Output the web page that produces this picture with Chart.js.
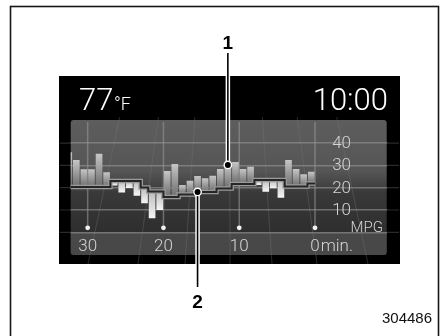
<!DOCTYPE html>
<html>
<head>
<meta charset="utf-8">
<script src="https://cdn.jsdelivr.net/npm/chart.js@4.4.1/dist/chart.umd.min.js"></script>
<style>
  html, body { margin: 0; padding: 0; background: #fff; }
</style>
</head>
<body>
<canvas id="c" width="444" height="336"></canvas>
<script>
// minutos atras (centro de cada barra); la de 32.5 queda cortada por el panel
const minutes = [32.5, 31.5, 30.5, 29.5, 28.5, 27.5, 26.5, 25.5, 24.5, 23.5, 22.5,
  21.5, 20.5, 19.5, 18.5, 17.5, 16.5, 15.5, 14.5, 13.5, 12.5, 11.5,
  10.5, 9.5, 8.5, 7.5, 6.5, 5.5, 4.5, 3.5, 2.5, 1.5, 0.5];
// consumo instantaneo (extremo de cada barra)
const mpg = [35.9, 32.4, 28.3, 28.3, 35.2, 26.9, 21.0, 17.9, 19.9, 16.4, 13.0,
  6.3, 10.0, 27.5, 30.6, 21.2, 23.1, 25.2, 24.2, 25.4, 28.4, 30.2,
  31.5, 28.4, 29.4, 21.2, 18.2, 19.7, 15.5, 32.4, 28.4, 26.0, 27.2];
// promedio (linea escalonada, base de cada barra)
const avgMpg = [20.3, 20.3, 20.3, 20.3, 20.3, 20.3, 23.0, 23.0, 23.0, 23.0, 20.1,
  18.3, 18.3, 15.8, 15.8, 16.9, 16.9, 18.1, 18.1, 18.1, 19.6, 19.6,
  21.7, 21.7, 21.7, 23.5, 23.5, 23.5, 23.5, 20.5, 20.5, 20.5, 21.9];

const xTickValues = [30, 20, 10, 0];
const xTickLabels = ['30', '20', '10', '0'];
const xUnit = 'min.';
const yTickValues = [10, 20, 30, 40];
const yTickLabels = ['10', '20', '30', '40'];
const yUnit = 'MPG';
const tempText = '77';
const tempUnit = '°F';
const clockText = '10:00';
const figureId = '304486';
// llamadas: 1 = barra actual, 2 = promedio
const callouts = [
  { label: '1', bar: 21, on: 'bar', toY: 53, labelY: 49 },
  { label: '2', bar: 17, on: 'avg', toY: 287, labelY: 308 }
];

const thinFont = 'Roboto, Lato, "Open Sans", sans-serif';

const barData = minutes.map(function (m, i) { return { x: m, y: [avgMpg[i], mpg[i]] }; });
const avgLine = [];
minutes.forEach(function (m, i) {
  avgLine.push({ x: m + 0.5, y: avgMpg[i] }, { x: m - 0.5, y: avgMpg[i] });
});

const dashPlugin = {
  id: 'dash',
  beforeDraw(chart) {
    const ctx = chart.ctx, a = chart.chartArea, y = chart.scales.y;
    ctx.save();
    ctx.fillStyle = '#fff';
    ctx.fillRect(0, 0, chart.width, chart.height);
    ctx.strokeStyle = '#161616';
    ctx.lineWidth = 1.6;
    ctx.strokeRect(10.5, 6.5, 428, 340);

    // pantalla negra
    ctx.fillStyle = '#000';
    ctx.fillRect(59, 76, 341, 188);
    ctx.strokeStyle = '#2a2a2a';
    ctx.lineWidth = 1.2;
    [0].concat(yTickValues).forEach(function (v) {
      const py = y.getPixelForValue(v);
      ctx.beginPath(); ctx.moveTo(60, py); ctx.lineTo(399, py); ctx.stroke();
    });

    // panel gris
    const panelBottom = 255;
    const g = ctx.createLinearGradient(0, a.top, 0, a.bottom);
    g.addColorStop(0, '#5d5d5d');
    g.addColorStop(0.45, '#565656');
    g.addColorStop(0.65, '#393939');
    g.addColorStop(1, '#2e2e2e');
    ctx.beginPath();
    ctx.roundRect(a.left, a.top, a.right - a.left, panelBottom - a.top, 3);
    ctx.fillStyle = g;
    ctx.fill();
    ctx.fillStyle = '#484848';
    ctx.beginPath();
    ctx.roundRect(a.left, a.bottom, a.right - a.left, panelBottom - a.bottom, [0, 0, 3, 3]);
    ctx.fill();

    // lineas de perspectiva del fondo
    ctx.save();
    ctx.beginPath();
    ctx.rect(59, 117, 341, 147);
    ctx.clip();
    ctx.strokeStyle = 'rgba(120,120,120,0.35)';
    ctx.lineWidth = 1;
    const vx = 229, vy = -390;
    [88, 138, 185, 230, 272, 317, 368].forEach(function (bx) {
      ctx.beginPath(); ctx.moveTo(vx, vy); ctx.lineTo(bx, 264); ctx.stroke();
    });
    ctx.restore();
    ctx.restore();
  },
  beforeDatasetsDraw(chart) {
    const ctx = chart.ctx, a = chart.chartArea, x = chart.scales.x;
    ctx.save();
    xTickValues.forEach(function (v) {
      const px = x.getPixelForValue(v);
      ctx.strokeStyle = 'rgba(150,150,150,0.6)';
      ctx.lineWidth = 1.5;
      ctx.beginPath(); ctx.moveTo(px, a.top + 2); ctx.lineTo(px, a.bottom - 5); ctx.stroke();
      ctx.fillStyle = '#f2f2f2';
      ctx.beginPath(); ctx.arc(px, a.bottom - 4.5, 2.4, 0, Math.PI * 2); ctx.fill();
    });
    ctx.restore();
  },
  afterDraw(chart) {
    const ctx = chart.ctx, a = chart.chartArea, x = chart.scales.x, y = chart.scales.y;
    ctx.save();

    // textos de la pantalla
    ctx.fillStyle = '#fff';
    ctx.textBaseline = 'alphabetic';
    ctx.textAlign = 'left';
    ctx.font = '300 31px ' + thinFont;
    ctx.fillText(tempText, 79, 110);
    ctx.font = '300 18px ' + thinFont;
    ctx.fillText(tempUnit, 114, 110);
    ctx.textAlign = 'right';
    ctx.font = '300 31px ' + thinFont;
    ctx.fillText(clockText, 388, 110);

    // escala MPG
    ctx.fillStyle = '#d4d4d4';
    ctx.font = '300 17px ' + thinFont;
    yTickValues.forEach(function (v, i) {
      ctx.fillText(yTickLabels[i], 351, y.getPixelForValue(v) + 5);
    });
    ctx.font = '300 15px ' + thinFont;
    ctx.fillText(yUnit, 383, a.bottom - 0.5);

    // escala de minutos
    ctx.font = '300 17px ' + thinFont;
    ctx.textAlign = 'center';
    const labelY = a.bottom + 18.5;
    xTickValues.forEach(function (v, i) {
      ctx.fillText(xTickLabels[i], x.getPixelForValue(v), labelY);
    });
    const p0 = x.getPixelForValue(0);
    ctx.textAlign = 'left';
    ctx.fillText(xUnit, p0 + ctx.measureText(xTickLabels[3]).width / 2 + 1, labelY);

    // llamadas 1 y 2
    callouts.forEach(function (c) {
      const px = x.getPixelForValue(minutes[c.bar]);
      const py = y.getPixelForValue(c.on === 'bar' ? mpg[c.bar] : avgMpg[c.bar]);
      const edge = c.toY < py ? 76 : 264;
      ctx.strokeStyle = '#fff';
      ctx.lineWidth = 4.5;
      ctx.beginPath(); ctx.moveTo(px, py); ctx.lineTo(px, edge); ctx.stroke();
      ctx.strokeStyle = '#000';
      ctx.lineWidth = 1.6;
      ctx.beginPath(); ctx.moveTo(px, py); ctx.lineTo(px, c.toY); ctx.stroke();
      ctx.fillStyle = '#fff';
      ctx.beginPath(); ctx.arc(px, py, 4.4, 0, Math.PI * 2); ctx.fill();
      ctx.fillStyle = '#000';
      ctx.beginPath(); ctx.arc(px, py, 3, 0, Math.PI * 2); ctx.fill();
      ctx.font = 'bold 19px "Liberation Sans", Arial, sans-serif';
      ctx.textAlign = 'center';
      ctx.fillText(c.label, px, c.labelY);
    });

    ctx.fillStyle = '#111';
    ctx.font = '15px "Liberation Sans", Arial, sans-serif';
    ctx.textAlign = 'right';
    ctx.fillText(figureId, 432, 323);
    ctx.restore();
  }
};

new Chart(document.getElementById('c'), {
  type: 'bar',
  data: {
    datasets: [
      {
        type: 'line', data: avgLine, order: 1, clip: 0,
        borderColor: '#262626', borderWidth: 2, pointRadius: 0, tension: 0,
        borderJoinStyle: 'miter', borderCapStyle: 'butt'
      },
      {
        type: 'line', data: avgLine, order: 2, clip: 0,
        borderColor: '#9a9a9a', borderWidth: 4.5, pointRadius: 0, tension: 0,
        borderJoinStyle: 'miter', borderCapStyle: 'butt'
      },
      {
        type: 'bar', data: barData, order: 3, clip: 0,
        categoryPercentage: 1, barPercentage: 0.88, borderWidth: 0,
        backgroundColor: function (c) {
          const chart = c.chart;
          if (!chart.chartArea || c.dataIndex === undefined) return '#999';
          const i = c.dataIndex, y = chart.scales.y;
          const up = mpg[i] >= avgMpg[i];
          const t = y.getPixelForValue(up ? mpg[i] : avgMpg[i]);
          const b = y.getPixelForValue(up ? avgMpg[i] : mpg[i]);
          const g = chart.ctx.createLinearGradient(0, t, 0, b + 0.01);
          if (up) { g.addColorStop(0, '#c6c6c6'); g.addColorStop(1, '#6c6c6c'); }
          else { g.addColorStop(0, '#bcbcbc'); g.addColorStop(1, '#f6f6f6'); }
          return g;
        }
      }
    ]
  },
  options: {
    responsive: false,
    animation: false,
    devicePixelRatio: 1,
    layout: { padding: { left: 70.7, right: 57.3, top: 120, bottom: 103.7 } },
    plugins: { legend: { display: false }, tooltip: { enabled: false } },
    scales: {
      x: { type: 'linear', reverse: true, min: -9.46, max: 32.24, display: false, offset: false },
      y: {
        position: 'right', min: 0, max: 50.36,
        afterBuildTicks: function (s) { s.ticks = [0].concat(yTickValues).map(function (v) { return { value: v }; }); },
        afterFit: function (s) { s.width = 0; },
        ticks: { display: false },
        border: { display: false },
        grid: { color: 'rgba(150,150,150,0.6)', lineWidth: 1.5, drawTicks: false }
      }
    }
  },
  plugins: [dashPlugin]
});
</script>
</body>
</html>
